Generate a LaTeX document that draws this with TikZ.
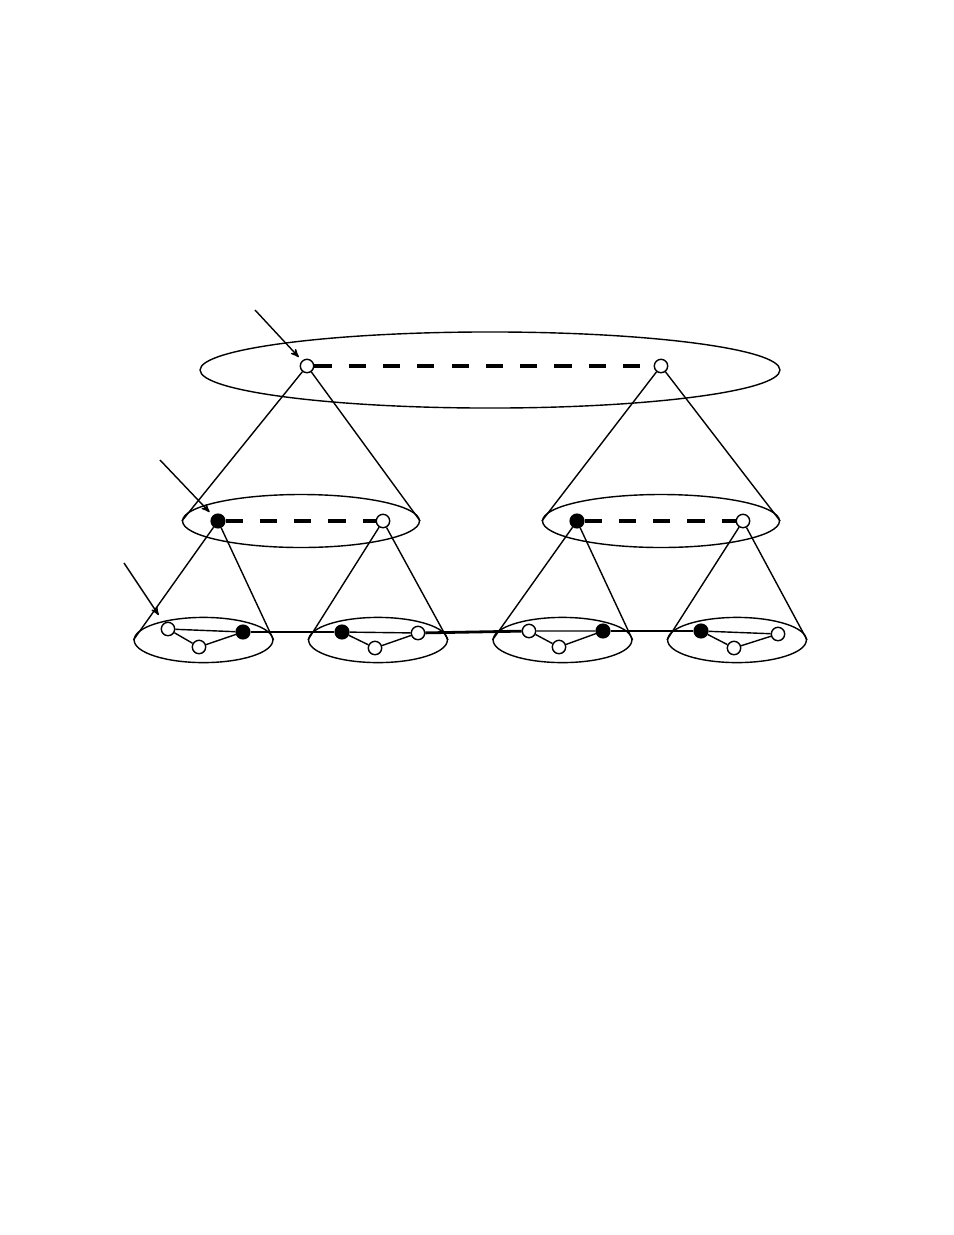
\documentclass[tikz,border=0pt]{standalone}
\usetikzlibrary{arrows, shapes.geometric}

\begin{document}
\begin{tikzpicture}[x=0.6415pt, y=-0.6415pt, line width=0.9pt]
	\tikzset {>=stealth',
		blank/.style={circle, draw, fill=white, inner sep=0pt, minimum size=8.6pt},
		hub/.style={circle, draw, fill=black, inner sep=0pt, minimum size=8.8pt},
		cluster/.style={ellipse, draw, inner sep=0pt},
		bridge/.style={line width=1.8pt},
		link/.style={line width=2pt, dash pattern=on 11pt off 11pt} }
	\useasboundingbox (0,0) rectangle (954,1235);

	% clusters
	\node[cluster, minimum width=372pt, minimum height=48.8pt] (top) at (490,370) {};
	\node[cluster, minimum width=152pt, minimum height=34pt] (mid1) at (301,521) {};
	\node[cluster, minimum width=152pt, minimum height=34pt] (mid2) at (661,521) {};
	\node[cluster, minimum width=89pt, minimum height=29pt] (low1) at (203.5,640) {};
	\node[cluster, minimum width=89pt, minimum height=29pt] (low2) at (378,640) {};
	\node[cluster, minimum width=89pt, minimum height=29pt] (low3) at (562.5,640) {};
	\node[cluster, minimum width=89pt, minimum height=29pt] (low4) at (737,640) {};

	% vertices
	\node[blank] (t1) at (307,366) {};
	\node[blank] (t2) at (661,366) {};
	\node[hub] (m1) at (218,521) {};
	\node[blank] (m2) at (383,521) {};
	\node[hub] (m3) at (577,521) {};
	\node[blank] (m4) at (743,521) {};

	\node[blank] (a) at (168,629) {};
	\node[blank] (b) at (199,647) {};
	\node[hub] (c) at (243,632) {};
	\node[hub] (d) at (342,632) {};
	\node[blank] (e) at (375,648) {};
	\node[blank] (f) at (418,633) {};
	\node[blank] (g) at (529,631) {};
	\node[blank] (h) at (559,647) {};
	\node[hub] (i) at (603,631) {};
	\node[hub] (j) at (701,631) {};
	\node[blank] (k) at (734,648) {};
	\node[blank] (l) at (778,634) {};

	\coordinate (p1) at (255,310);
	\coordinate (p2) at (160,460);
	\coordinate (p3) at (124,563);

	% dashed links
	\draw[link] (t1) -- (t2);
	\draw[link] (m1) -- (m2);
	\draw[link] (m3) -- (m4);

	% cones
	\draw (t1) -- (mid1.west) (t1) -- (mid1.east);
	\draw (t2) -- (mid2.west) (t2) -- (mid2.east);
	\draw (m1) -- (low1.west) (m1) -- (low1.east);
	\draw (m2) -- (low2.west) (m2) -- (low2.east);
	\draw (m3) -- (low3.west) (m3) -- (low3.east);
	\draw (m4) -- (low4.west) (m4) -- (low4.east);

	% inner edges
	\draw (a) -- (c) (a) -- (b) (b) -- (c);
	\draw (d) -- (f) (d) -- (e) (e) -- (f);
	\draw (g) -- (i) (g) -- (h) (h) -- (i);
	\draw (j) -- (l) (j) -- (k) (k) -- (l);

	% bridges
	\draw[bridge] (c) -- (d);
	\draw[bridge] (f) -- (g);
	\draw[bridge] (i) -- (j);

	% pointers
	\draw[->, shorten >=3pt] (p1) -- (t1);
	\draw[->, shorten >=3pt] (p2) -- (m1);
	\draw[->, shorten >=6pt] (p3) -- (a);
\end{tikzpicture}
\end{document}
